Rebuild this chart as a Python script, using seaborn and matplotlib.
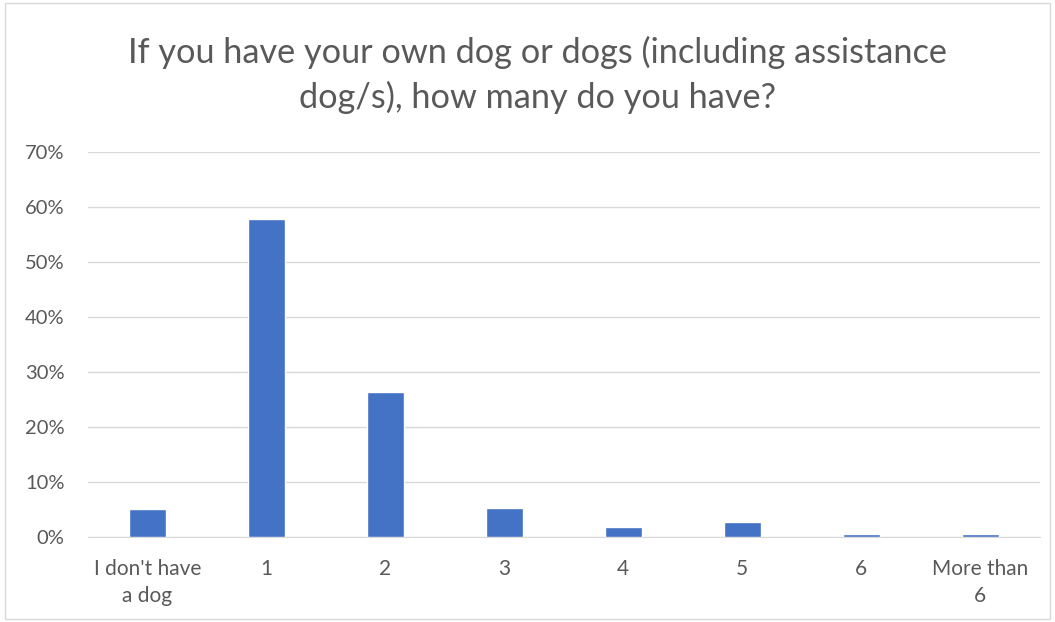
import numpy as np
import pandas as pd
import seaborn as sns
import matplotlib.pyplot as plt
from matplotlib.ticker import PercentFormatter

sns.set_style("white")
plt.rcParams['font.family'] = ['Lato', 'DejaVu Sans']

categories = ["I don't have\na dog", "1", "2", "3", "4", "5", "6", "More than\n6"]
shares = [5.0, 57.7, 26.4, 5.3, 1.8, 2.6, 0.5, 0.5]
title_lines = ["If you have your own dog or dogs (including assistance",
               "dog/s), how many do you have?"]

df = pd.DataFrame({"answer": categories, "share": shares})

fig = plt.figure(figsize=(10.55, 6.22), dpi=100)
ax = fig.add_axes([0.0834, 0.137, 0.902, 0.619])

sns.barplot(data=df, x="answer", y="share", color="#4472C4", width=0.31,
            saturation=1, ax=ax, zorder=3)

ax.set_xlim(-0.5, len(categories) - 0.5)
ax.set_ylim(0, 70)
ax.set_yticks(np.arange(0, 71, 10))
ax.yaxis.set_major_formatter(PercentFormatter(decimals=0))
ax.grid(axis="y", color="#d9d9d9", linewidth=1, zorder=0)
for s in ["top", "right", "left"]:
    ax.spines[s].set_visible(False)
ax.spines["bottom"].set_color("#d9d9d9")
ax.set_xlabel("")
ax.set_ylabel("")
ax.tick_params(axis="both", length=0, labelcolor="#595959")
ax.tick_params(axis="y", pad=17, labelsize=14.5)
ax.tick_params(axis="x", pad=16, labelsize=15)
for lab in ax.get_xticklabels():
    lab.set_linespacing(1.45)

# title, two centred lines
fig.text(0.5095, 1 - 63 / 622, title_lines[0], ha="center", va="baseline",
         fontsize=24.7, color="#595959")
fig.text(0.5095, 1 - 108 / 622, title_lines[1], ha="center", va="baseline",
         fontsize=24.7, color="#595959")

# chart border
fig.patches.append(plt.Rectangle((0.005, 0.005), 0.99, 0.99, transform=fig.transFigure,
                                 fill=False, edgecolor="#d9d9d9", linewidth=1))

plt.savefig("out.png", dpi=100)
